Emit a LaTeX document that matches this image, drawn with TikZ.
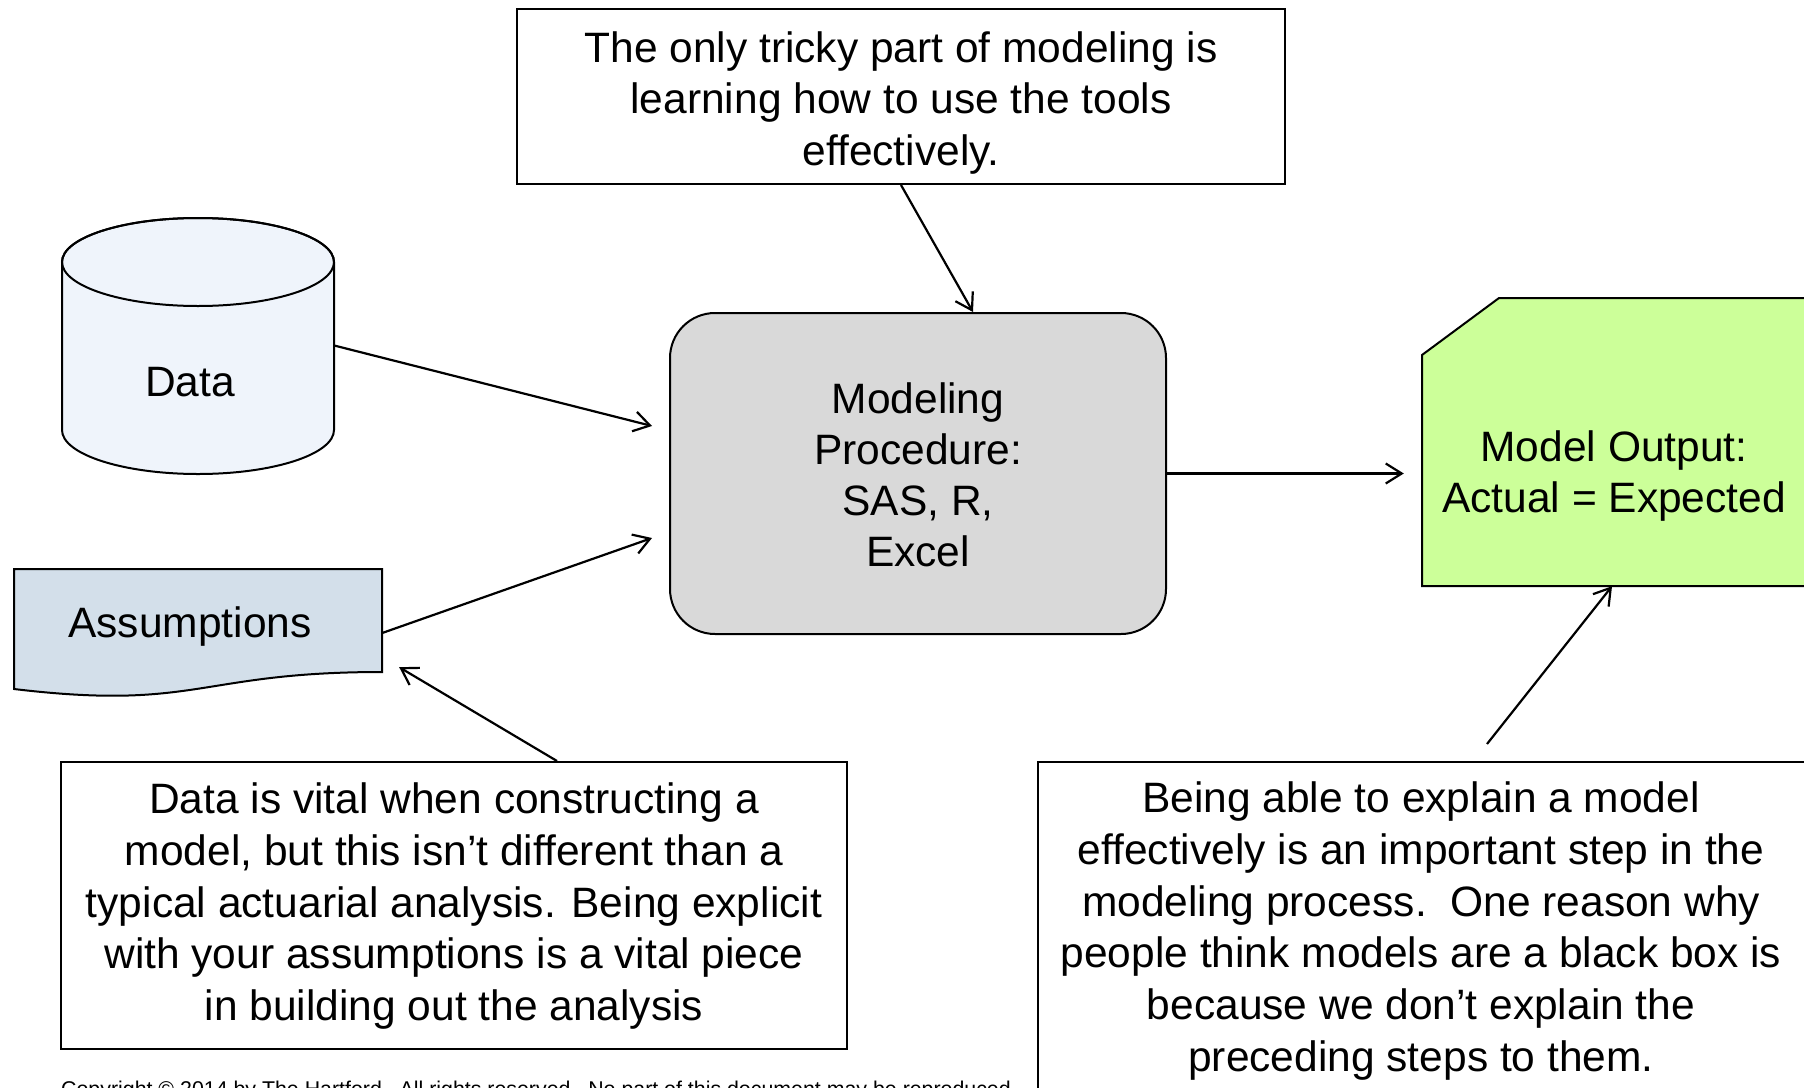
\documentclass[tikz,border=0pt]{standalone}
\usepackage{fontspec}
\setmainfont{Liberation Sans}
\usetikzlibrary{arrows.meta,calc}
\definecolor{modfill}{RGB}{217,217,217}
\definecolor{outfill}{RGB}{204,255,153}
\definecolor{datafill}{RGB}{239,244,251}
\definecolor{assumfill}{RGB}{211,223,234}
\begin{document}
\begin{tikzpicture}[x=1pt,y=-1pt,
  frame/.style={draw,line width=2pt,inner sep=0pt},
  hold/.style={inner sep=0pt},
  txt/.style={inner sep=0pt,align=center,font=\fontsize{42.5}{51.7}\selectfont},
  arr/.style={line width=2.2pt,-{Straight Barb[length=16pt,width=20pt]}}]
\useasboundingbox (0,0) rectangle (1804,1087);

% boxes
\node[frame,minimum width=768pt,minimum height=175pt] (tipnote) at (901,96.5) {};
\node[txt] (tiptext) at (901,103) {The only tricky part of modeling is\\learning how to use the tools\\effectively.};

\node[frame,fill=modfill,rounded corners=45pt,minimum width=496pt,minimum height=321pt] (model) at (918,473.5) {};
\node[txt,font=\fontsize{42.5}{51.2}\selectfont] (modeltext) at (918,475) {Modeling\\Procedure:\\SAS, R,\\Excel};

% data cylinder
\node[hold,minimum width=272pt,minimum height=257pt] (data) at (198,345.5) {};
\path[draw,line width=2pt,fill=datafill] (62,262) -- (62,430)
  arc[start angle=180,end angle=0,x radius=136,y radius=44] -- (334,262)
  arc[start angle=0,end angle=-180,x radius=136,y radius=44] -- cycle;
\draw[line width=2pt] (198,262) ellipse[x radius=136,y radius=44];
\node[txt] (datatext) at (190,382) {Data};

% assumptions document shape
\node[hold,minimum width=368pt,minimum height=128pt] (assum) at (198,633) {};
\path[draw,line width=2pt,fill=assumfill] (14,569) -- (382,569) -- (382,672)
  .. controls (198,672) and (198,711) .. (14,689) -- cycle;
\node[txt] (assumtext) at (190,627) {Assumptions};

% output snipped rectangle
\node[hold,minimum width=384pt,minimum height=288pt] (output) at (1614,442) {};
\path[draw,line width=2pt,fill=outfill] (1499,298) -- (1812,298) -- (1812,586)
  -- (1422,586) -- (1422,355) -- cycle;
\node[txt] (outtext) at (1614,476) {Model Output:\\Actual = Expected};

% notes
\node[frame,minimum width=786pt,minimum height=287pt] (note1) at (454,905.5) {};
\node[txt] (note1text) at (454,906) {Data is vital when constructing a\\model, but this isn’t different than a\\typical actuarial analysis. Being explicit\\with your assumptions is a vital piece\\in building out the analysis};

\node[frame,minimum width=768pt,minimum height=328pt] (note2) at (1422,926) {};
\node[txt] (note2text) at (1421,931) {Being able to explain a model\\effectively is an important step in the\\modeling process.\ \ One reason why\\people think models are a black box is\\because we don’t explain the\\preceding steps to them.};

\node[inner sep=0pt,anchor=base west,font=\fontsize{21.35}{26}\selectfont] (copy) at (61,1096) {Copyright © 2014 by The Hartford.\ \ All rights reserved.\ \ No part of this document may be reproduced};

% connectors
\draw[arr] (tipnote.south) -- ($(model.north)+(55,0)$);
\draw[arr] (data.east) -- ($(model.west)+(-17,-47.5)$);
\draw[arr] (assum.east) -- ($(model.west)+(-17,64.5)$);
\draw[arr,shorten >=18pt] (model.east) -- (model.east -| output.west);
\draw[arr] ($(note1.north)+(103,0)$) -- ($(assum.south east)+(17,-30)$);
\draw[arr] ($(note2.north)+(65,-17)$) -- ($(output.south)+(-2,0)$);
\end{tikzpicture}
\end{document}
